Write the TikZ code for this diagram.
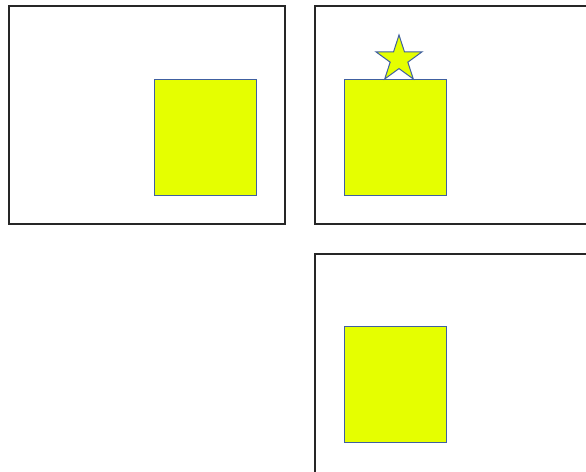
\documentclass[tikz,border=0pt]{standalone}
\begin{document}
\begin{tikzpicture}[x=1pt,y=-1pt,
  frame/.style={draw=black!85,line width=1.3pt},
  box/.style={draw={rgb,255:red,64;green,96;blue,160},fill={rgb,255:red,229;green,255;blue,0},line width=1pt},
  starshape/.style={box,line join=miter}]
\useasboundingbox (0,0) rectangle (586,471);
\clip (0,0) rectangle (586,471);
% panels
\draw[frame] (9,6) rectangle (285,224);
\draw[frame] (315,6) rectangle (600,224);
\draw[frame] (315,254) rectangle (600,490);
% yellow boxes
\path[box] (154,79) rectangle (256,195);
\path[box] (344,79) rectangle (446,195);
\path[box] (344,326) rectangle (446,442);
% star
\path[starshape] (399,35) -- (393.55,51.79) -- (375.89,51.79) -- (390.17,62.17)
  -- (384.72,78.96) -- (399,68.58) -- (413.28,78.96) -- (407.83,62.17)
  -- (422.11,51.79) -- (404.45,51.79) -- cycle;
\end{tikzpicture}
\end{document}
